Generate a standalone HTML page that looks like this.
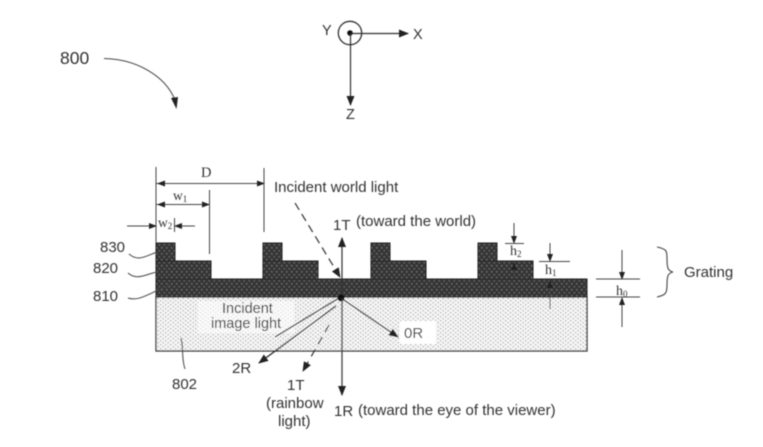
<!DOCTYPE html>
<html>
<head>
<meta charset="utf-8">
<style>
html,body{margin:0;padding:0;background:#fff;width:763px;height:447px;overflow:hidden}
svg{display:block}
text{font-family:"Liberation Sans",sans-serif;font-size:15px;fill:#333}
.s{font-family:"Liberation Serif",serif}
</style>
</head>
<body>
<svg width="763" height="447" viewBox="0 0 763 447" xmlns="http://www.w3.org/2000/svg">
<defs>
<pattern id="dots" width="5" height="4" patternUnits="userSpaceOnUse">
<rect width="5" height="4" fill="#f6f6f6"/>
<rect x="0" y="0" width="1.300" height="1.300" fill="#a8a8a8"/>
<rect x="2.500" y="2" width="1.300" height="1.300" fill="#a8a8a8"/>
</pattern>
<pattern id="dark" width="5" height="6" patternUnits="userSpaceOnUse">
<rect width="5" height="6" fill="#363636"/>
<rect x="1" y="1" width="1.600" height="1.600" fill="#686868"/>
<rect x="3.500" y="4" width="1.600" height="1.600" fill="#606060"/>
</pattern>
<marker id="a" markerWidth="10" markerHeight="8" refX="9" refY="4" orient="auto" markerUnits="userSpaceOnUse">
<path d="M0,0 L10,4 L0,8 Z" fill="#222"/>
</marker>
<marker id="as" markerWidth="8" markerHeight="6" refX="7" refY="3" orient="auto" markerUnits="userSpaceOnUse">
<path d="M0,0 L8,3 L0,6 Z" fill="#222"/>
</marker>
<filter id="b" x="-5%" y="-5%" width="110%" height="110%"><feGaussianBlur stdDeviation="0.6"/></filter>
</defs>
<rect width="763" height="447" fill="#fff"/>
<g filter="url(#b)">
<!-- axes -->
<circle cx="350" cy="33" r="11.700" fill="none" stroke="#333" stroke-width="1.300"/>
<circle cx="350" cy="33" r="2.800" fill="#111"/>
<line x1="351" y1="33.500" x2="408" y2="33.500" stroke="#333" stroke-width="1.200" marker-end="url(#a)"/>
<line x1="350.500" y1="34" x2="350.500" y2="105" stroke="#333" stroke-width="1.200" marker-end="url(#a)"/>
<text x="322" y="35" style="font-size:14.500px">Y</text>
<text x="413" y="39" style="font-size:14.500px">X</text>
<text x="346" y="119" style="font-size:14.500px">Z</text>
<text x="60" y="64" style="font-size:17.500px">800</text>
<path d="M104,58.500 C135,59 165,75 175,100" fill="none" stroke="#444" stroke-width="1"/>
<path d="M171,98 L178,97 L176.500,109 Z" fill="#222"/>

<!-- substrate -->
<rect x="156" y="297" width="431" height="54" fill="url(#dots)" stroke="#333" stroke-width="1.300"/>
<rect x="198" y="301" width="96" height="32" fill="#fff" opacity=".6"/>
<rect x="400" y="321" width="36" height="23" fill="#fff"/>

<!-- grating -->
<rect x="156" y="279" width="431" height="18" fill="url(#dark)" stroke="#222" stroke-width="1"/>
<g fill="url(#dark)" stroke="#222" stroke-width="1">
<rect x="156" y="261" width="55" height="18"/><rect x="156" y="243" width="19" height="18"/>
<rect x="263" y="261" width="55" height="18"/><rect x="263" y="243" width="19" height="18"/>
<rect x="371" y="261" width="55" height="18"/><rect x="371" y="243" width="19" height="18"/>
<rect x="478" y="261" width="55" height="18"/><rect x="478" y="243" width="19" height="18"/>
</g>

<!-- dimension lines -->
<g stroke="#444" stroke-width="1" fill="none">
<line x1="156" y1="167" x2="156" y2="243"/>
<line x1="264" y1="168" x2="264" y2="232"/>
<line x1="209.500" y1="190" x2="209.500" y2="254"/>
<line x1="174.500" y1="218" x2="174.500" y2="232"/>
<line x1="156" y1="183.500" x2="264" y2="183.500" marker-end="url(#as)"/>
<line x1="156" y1="204.500" x2="209" y2="204.500" marker-end="url(#as)"/>
<line x1="127" y1="226" x2="156" y2="226" marker-end="url(#as)"/>
<line x1="195" y1="226" x2="175" y2="226" marker-end="url(#as)"/>
</g>
<path d="M157,183.500 L165,180.500 L165,186.500 Z M157,204.500 L165,201.500 L165,207.500 Z" fill="#222"/>
<text class="s" x="201" y="177" style="font-size:14.500px">D</text>
<text class="s" x="173" y="200" style="font-size:13.500px">w<tspan dy="2" style="font-size:9px">1</tspan></text>
<text class="s" x="158" y="227" style="font-size:13.500px">w<tspan dy="2" style="font-size:9px">2</tspan></text>

<!-- reference labels -->
<text x="100" y="252">830</text>
<text x="93" y="273">820</text>
<text x="93" y="301">810</text>
<g stroke="#444" stroke-width="1" fill="none">
<path d="M129,254 C138,262 146,256 157,252"/>
<path d="M128,273 C137,281 146,274 157,272"/>
<path d="M128,298 C140,302 150,292 171,285"/>
<path d="M181,338 C184,350 181,357 185,369"/>
</g>
<text x="172" y="389">802</text>

<!-- light rays -->
<text x="274" y="192">Incident world light</text>
<line x1="295" y1="203" x2="340" y2="277" stroke="#333" stroke-width="1.200" stroke-dasharray="8 5" marker-end="url(#a)"/>
<line x1="342" y1="297" x2="342" y2="238" stroke="#333" stroke-width="1.200" marker-end="url(#a)"/>
<text x="333" y="230">1T</text>
<text x="356" y="226">(toward the world)</text>
<circle cx="341" cy="298" r="3.500" fill="#111"/>
<line x1="342" y1="298" x2="342" y2="395" stroke="#444" stroke-width="1.300" marker-end="url(#a)"/>
<line x1="341" y1="298" x2="398" y2="337" stroke="#222" stroke-width="1.200" marker-end="url(#a)"/>
<line x1="339" y1="298" x2="275" y2="337" stroke="#222" stroke-width="1.200"/>
<line x1="336" y1="306" x2="259" y2="363" stroke="#222" stroke-width="1.200" marker-end="url(#a)"/>
<line x1="329" y1="325" x2="303" y2="371" stroke="#333" stroke-width="1.200" stroke-dasharray="8 6" marker-end="url(#a)"/>
<text x="222" y="313" style="font-size:14.500px">Incident</text>
<text x="211" y="328" style="font-size:14.500px">image light</text>
<text x="404" y="338">0R</text>
<text x="232" y="373">2R</text>
<text x="287" y="390">1T</text>
<text x="266" y="408">(rainbow</text>
<text x="278" y="426">light)</text>
<text x="334" y="416">1R</text>
<text x="358" y="415">(toward the eye of the viewer)</text>

<!-- heights -->
<g stroke="#444" stroke-width="1" fill="none">
<line x1="514" y1="223" x2="514" y2="243" marker-end="url(#as)"/>
<line x1="505" y1="243.500" x2="524" y2="243.500"/>
<line x1="514" y1="278" x2="514" y2="263" marker-end="url(#as)"/>
<line x1="550" y1="243" x2="550" y2="261" marker-end="url(#as)"/>
<line x1="539" y1="261.500" x2="570" y2="261.500"/>
<line x1="550" y1="309" x2="550" y2="281" marker-end="url(#as)"/>
<line x1="622" y1="250" x2="622" y2="279" marker-end="url(#as)"/>
<line x1="596" y1="279" x2="640" y2="279"/>
<line x1="596" y1="297" x2="640" y2="297"/>
<line x1="622" y1="327" x2="622" y2="298" marker-end="url(#as)"/>
<path d="M657,247 C667,249 667,251 667,259 C667,268 668,271 673,272 C668,273 667,276 667,285 C667,293 666,295 657,297" stroke-width="1.100"/>
</g>
<text class="s" x="510" y="255" style="font-size:14px">h<tspan dy="2" style="font-size:9px">2</tspan></text>
<text class="s" x="545" y="274" style="font-size:14px">h<tspan dy="2" style="font-size:9px">1</tspan></text>
<text class="s" x="616" y="295" style="font-size:14px">h<tspan dy="2" style="font-size:9px">0</tspan></text>
<text x="684" y="277">Grating</text>
</g>
</svg>
</body>
</html>
